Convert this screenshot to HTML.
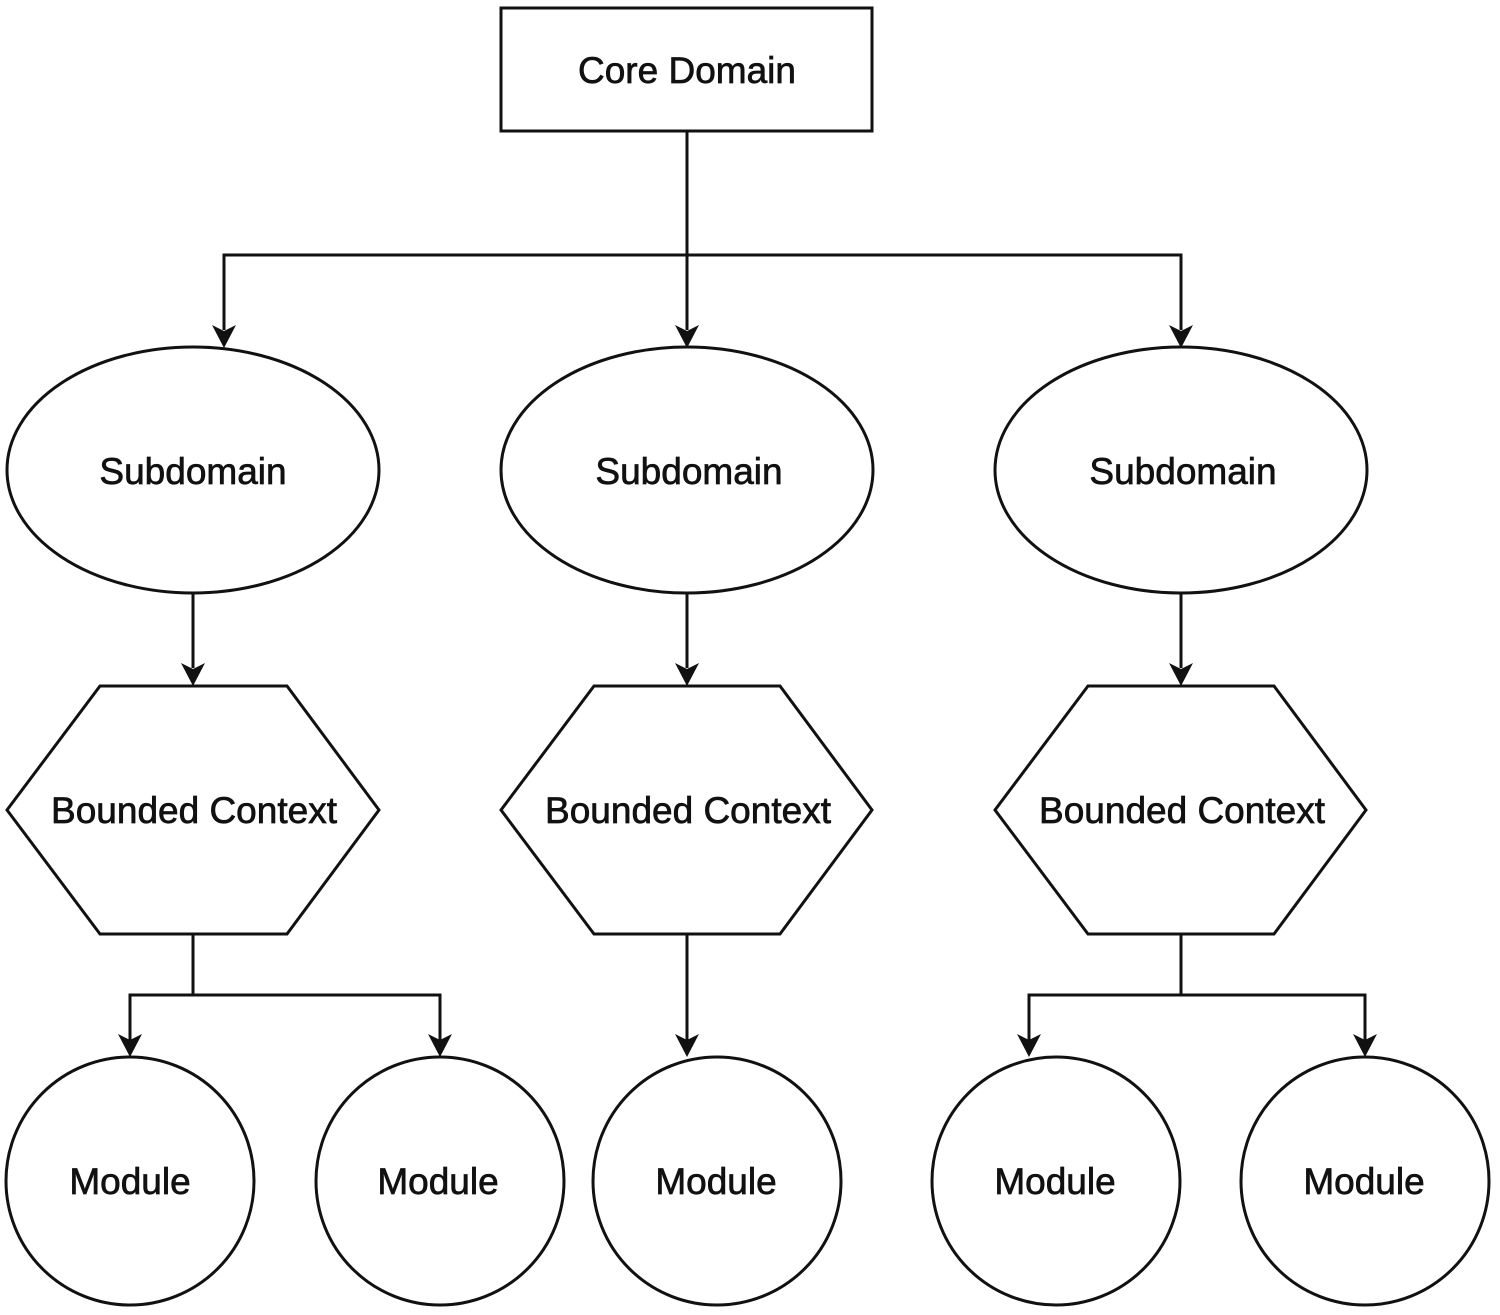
<!DOCTYPE html>
<html><head><style>html,body{margin:0;padding:0;background:#fff}svg{display:block}</style></head>
<body>
<svg width="1500" height="1315" viewBox="0 0 1500 1315" xmlns="http://www.w3.org/2000/svg">
<g fill="none" stroke="#111" stroke-width="3">
<rect x="501" y="8" width="371" height="123"/>
<path d="M687 131V330M224 330V255H1181V330"/>
<ellipse cx="193" cy="470" rx="186" ry="123"/>
<ellipse cx="687" cy="470" rx="186" ry="123"/>
<ellipse cx="1181" cy="470" rx="186" ry="123"/>
<path d="M193 593V668M687 593V668M1181 593V668"/>
<polygon points="100,686 287,686 379,810 287,934 100,934 7,810"/>
<polygon points="594,686 780,686 872,810 780,934 594,934 501,810"/>
<polygon points="1088,686 1274,686 1366,810 1274,934 1088,934 995,810"/>
<path d="M193 934V995M130 1040V995H440V1040M687 934V1040M1181 934V995M1029 1040V995H1365V1040"/>
<circle cx="130" cy="1181" r="124"/>
<circle cx="440" cy="1181" r="124"/>
<circle cx="717" cy="1181" r="124"/>
<circle cx="1056" cy="1181" r="124"/>
<circle cx="1365" cy="1181" r="124"/>
</g>
<g fill="#111">
<path d="M212 325L224 348L236 325L224 331Z"/>
<path d="M675 325L687 348L699 325L687 331Z"/>
<path d="M1169 325L1181 348L1193 325L1181 331Z"/>
<path d="M181 663L193 686L205 663L193 669Z"/>
<path d="M675 663L687 686L699 663L687 669Z"/>
<path d="M1169 663L1181 686L1193 663L1181 669Z"/>
<path d="M118 1034L130 1057L142 1034L130 1040Z"/>
<path d="M428 1034L440 1057L452 1034L440 1040Z"/>
<path d="M675 1034L687 1057L699 1034L687 1040Z"/>
<path d="M1017 1034L1029 1057L1041 1034L1029 1040Z"/>
<path d="M1353 1034L1365 1057L1377 1034L1365 1040Z"/>
</g>
<g font-family="Liberation Sans, sans-serif" font-size="37" text-anchor="middle" fill="#111" stroke="#111" stroke-width="0.7">
<text x="687" y="83">Core Domain</text>
<text x="193" y="484">Subdomain</text>
<text x="689" y="484">Subdomain</text>
<text x="1183" y="484">Subdomain</text>
<text x="194" y="823">Bounded Context</text>
<text x="688" y="823">Bounded Context</text>
<text x="1182" y="823">Bounded Context</text>
<text x="130" y="1194">Module</text>
<text x="438" y="1194">Module</text>
<text x="716" y="1194">Module</text>
<text x="1055" y="1194">Module</text>
<text x="1364" y="1194">Module</text>
</g>
</svg>
</body></html>
